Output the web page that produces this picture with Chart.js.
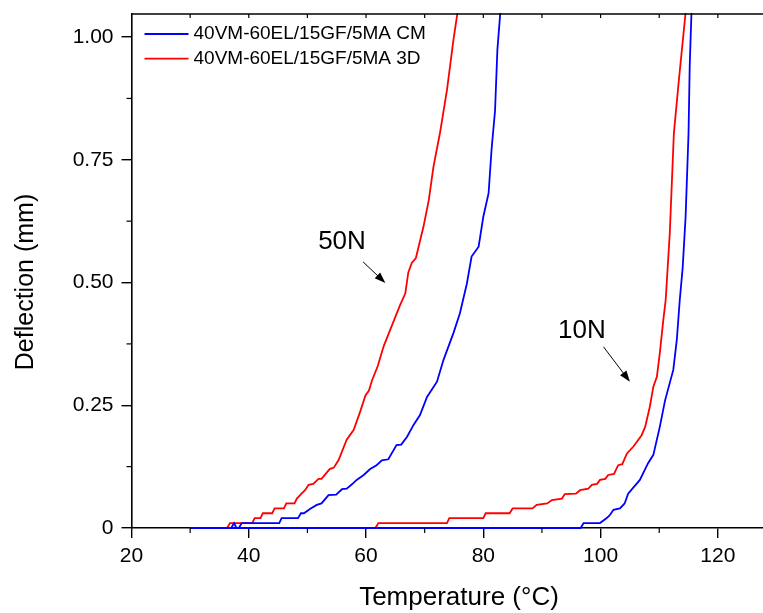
<!DOCTYPE html>
<html>
<head>
<meta charset="utf-8">
<script src="https://cdn.jsdelivr.net/npm/chart.js@4.4.1/dist/chart.umd.min.js"></script>
<style>
    body { margin: 0; background: #fff; }
    canvas { display: block; }
</style>
</head>
<body>
<canvas id="hdtChart" width="763" height="613"></canvas>
<script>
// CM sample, 50N load
const cm50Temp = [37.0, 37.5, 37.9, 38.3, 38.8, 40.5, 45.2, 45.6, 48.4, 48.9, 49.4, 50.5, 51.6, 52.4, 53.6, 54.9, 55.9, 56.7, 57.6, 58.4, 59.6, 60.7, 61.8, 62.7, 63.8, 65.2, 66.0, 67.0, 68.1, 69.2, 70.4, 72.1, 73.2, 74.9, 76.0, 77.2, 78.0, 79.2, 80.0, 80.9, 81.4, 82.0, 82.4, 82.9];
const cm50Defl = [0, 0.01, 0, 0, 0.01, 0.01, 0.01, 0.02, 0.02, 0.03, 0.03, 0.039, 0.047, 0.05, 0.067, 0.068, 0.079, 0.08, 0.089, 0.098, 0.108, 0.12, 0.128, 0.138, 0.14, 0.169, 0.17, 0.186, 0.21, 0.23, 0.267, 0.298, 0.342, 0.397, 0.437, 0.498, 0.553, 0.573, 0.634, 0.682, 0.77, 0.85, 0.974, 1.05];

// 3D sample, 50N load
const d50Temp = [30, 36.3, 36.8, 40.6, 41.0, 42.0, 42.4, 44.0, 44.4, 46.0, 46.4, 47.8, 48.2, 49.0, 49.6, 50.2, 51.0, 51.9, 52.4, 53.8, 54.5, 55.3, 56.7, 57.9, 59.0, 59.9, 60.5, 61.0, 62.0, 63.0, 64.0, 65.0, 65.8, 66.7, 67.2, 67.8, 68.5, 69.8, 70.7, 71.5, 72.6, 73.8, 74.9, 75.6];
const d50Defl = [0, 0, 0.01, 0.01, 0.02, 0.02, 0.03, 0.03, 0.04, 0.04, 0.05, 0.05, 0.06, 0.07, 0.077, 0.088, 0.09, 0.10, 0.10, 0.12, 0.123, 0.138, 0.18, 0.20, 0.237, 0.27, 0.28, 0.30, 0.33, 0.37, 0.40, 0.43, 0.454, 0.478, 0.52, 0.54, 0.55, 0.614, 0.668, 0.736, 0.804, 0.892, 0.994, 1.05];

// CM sample, 10N load
const cm10Temp = [30, 96.6, 97.1, 99.9, 101.0, 101.5, 102.2, 103.3, 104.1, 104.7, 106.7, 108.1, 109.0, 110.1, 111.0, 112.4, 113.0, 113.5, 114.0, 114.5, 115.0, 115.2, 115.5];
const cm10Defl = [0, 0, 0.01, 0.01, 0.02, 0.025, 0.037, 0.04, 0.05, 0.07, 0.098, 0.132, 0.149, 0.206, 0.26, 0.322, 0.383, 0.464, 0.53, 0.634, 0.804, 0.94, 1.05];

// 3D sample, 10N load
const d10Temp = [30, 61.6, 62.1, 73.8, 74.2, 80.0, 80.4, 84.5, 85.0, 88.4, 89.1, 90.9, 91.7, 93.4, 93.9, 95.8, 96.5, 97.9, 98.5, 99.4, 99.9, 100.8, 101.3, 102.3, 103.0, 103.7, 104.5, 105.6, 107.0, 107.6, 108.4, 109.0, 109.6, 110.1, 110.7, 111.1, 111.8, 112.5, 113.3, 114.5];
const d10Defl = [0, 0, 0.01, 0.01, 0.02, 0.02, 0.03, 0.03, 0.04, 0.04, 0.047, 0.05, 0.057, 0.06, 0.069, 0.07, 0.077, 0.08, 0.088, 0.09, 0.098, 0.10, 0.108, 0.11, 0.128, 0.13, 0.152, 0.166, 0.189, 0.206, 0.247, 0.288, 0.308, 0.356, 0.424, 0.464, 0.6, 0.804, 0.906, 1.05];

const seriesNames = ['40VM-60EL/15GF/5MA CM', '40VM-60EL/15GF/5MA 3D'];
const xTicks = [20, 40, 60, 80, 100, 120];
const yTicks = [0, 0.25, 0.5, 0.75, 1.0];
const yTickLabels = ['0', '0.25', '0.50', '0.75', '1.00'];

// load labels: [text, textX, textY, arrowFromX, arrowFromY, arrowToX, arrowToY] in data units
const loadNotes = [
    ['50N', 55.9, 0.582, 59.5, 0.542, 63.3, 0.499],
    ['10N', 96.8, 0.401, 100.5, 0.369, 105.0, 0.298]
];

const BLUE = '#0000ff';
const RED = '#ff0000';
const FONT = "'Liberation Sans', Arial, sans-serif";

function zip(xs, ys) {
    return xs.map((x, i) => ({ x: x, y: ys[i] }));
}

function lineSet(label, xs, ys, color) {
    return {
        label: label,
        data: zip(xs, ys),
        showLine: true,
        borderColor: color,
        backgroundColor: color,
        borderWidth: 1.8,
        pointRadius: 0,
        tension: 0,
        clip: { left: 10, top: 1, right: 10, bottom: 4 }
    };
}

// minor ticks, top frame line, axis titles, legend and load arrows
const decorPlugin = {
    id: 'decor',
    afterDraw(chart) {
        const c = chart.ctx;
        const area = chart.chartArea;
        const xs = chart.scales.x;
        const ys = chart.scales.y;
        c.save();
        c.strokeStyle = '#000';
        c.lineWidth = 1.5;

        // top frame
        c.beginPath();
        c.moveTo(area.left, area.top);
        c.lineTo(area.right, area.top);
        c.stroke();

        c.lineWidth = 1.2;
        for (let v = 30; v <= 130; v += 10) {
            const px = xs.getPixelForValue(v);
            if (px > area.right) break;
            c.beginPath();
            c.moveTo(px, area.top);
            c.lineTo(px, area.top + 4);
            c.stroke();
            if (v % 20 !== 0) {
                c.beginPath();
                c.moveTo(px, area.bottom);
                c.lineTo(px, area.bottom + 5);
                c.stroke();
            }
        }
        for (let v = 0.125; v < 1.05; v += 0.25) {
            const py = ys.getPixelForValue(v);
            c.beginPath();
            c.moveTo(area.left, py);
            c.lineTo(area.left - 5, py);
            c.stroke();
        }

        // axis titles
        c.fillStyle = '#000';
        c.font = '26px ' + FONT;
        c.textAlign = 'center';
        c.textBaseline = 'middle';
        c.fillText('Temperature (°C)', 459, 598);
        c.save();
        c.translate(26, 282);
        c.rotate(-Math.PI / 2);
        c.font = '25px ' + FONT;
        c.fillText('Deflection (mm)', 0, 0);
        c.restore();

        // legend
        c.font = '19px ' + FONT;
        c.textAlign = 'left';
        c.textBaseline = 'middle';
        const colors = [BLUE, RED];
        seriesNames.forEach((name, i) => {
            const y = area.top + 20 + i * 24.7;
            c.strokeStyle = colors[i];
            c.lineWidth = 1.8;
            c.beginPath();
            c.moveTo(area.left + 13, y);
            c.lineTo(area.left + 57, y);
            c.stroke();
            c.fillStyle = '#000';
            c.fillText(name, area.left + 62, y);
        });

        // load labels with arrows
        c.font = '26px ' + FONT;
        c.textAlign = 'center';
        loadNotes.forEach(n => {
            c.fillStyle = '#000';
            c.fillText(n[0], xs.getPixelForValue(n[1]), ys.getPixelForValue(n[2]));
            const x1 = xs.getPixelForValue(n[3]), y1 = ys.getPixelForValue(n[4]);
            const x2 = xs.getPixelForValue(n[5]), y2 = ys.getPixelForValue(n[6]);
            const ang = Math.atan2(y2 - y1, x2 - x1);
            c.strokeStyle = '#000';
            c.lineWidth = 1;
            c.beginPath();
            c.moveTo(x1, y1);
            c.lineTo(x2 - 6 * Math.cos(ang), y2 - 6 * Math.sin(ang));
            c.stroke();
            c.beginPath();
            c.moveTo(x2, y2);
            c.lineTo(x2 - 11 * Math.cos(ang) + 4 * Math.sin(ang), y2 - 11 * Math.sin(ang) - 4 * Math.cos(ang));
            c.lineTo(x2 - 11 * Math.cos(ang) - 4 * Math.sin(ang), y2 - 11 * Math.sin(ang) + 4 * Math.cos(ang));
            c.closePath();
            c.fill();
        });
        c.restore();
    }
};

const ctx = document.getElementById('hdtChart').getContext('2d');
new Chart(ctx, {
    type: 'scatter',
    data: {
        datasets: [
            lineSet(seriesNames[0], cm50Temp, cm50Defl, BLUE),
            lineSet(seriesNames[0], cm10Temp, cm10Defl, BLUE),
            lineSet(seriesNames[1], d50Temp, d50Defl, RED),
            lineSet(seriesNames[1], d10Temp, d10Defl, RED)
        ]
    },
    options: {
        responsive: false,
        animation: false,
        layout: { padding: { top: 14, right: 0, left: 0, bottom: 0 } },
        plugins: {
            legend: { display: false },
            tooltip: { enabled: false }
        },
        scales: {
            x: {
                type: 'linear',
                min: 20,
                max: 127.7,
                afterBuildTicks: scale => { scale.ticks = xTicks.map(v => ({ value: v })); },
                afterFit: scale => {
                    scale.height = 85;
                    scale.paddingLeft = 0;
                    scale.paddingRight = 0;
                },
                ticks: {
                    color: '#000',
                    font: { family: FONT, size: 21 },
                    padding: 6,
                    maxRotation: 0
                },
                grid: {
                    drawOnChartArea: false,
                    drawTicks: true,
                    tickLength: 10,
                    color: '#000',
                    lineWidth: 1.4
                },
                border: { display: true, color: '#000', width: 1.6 },
                title: { display: false }
            },
            y: {
                type: 'linear',
                min: 0,
                max: 1.047,
                afterBuildTicks: scale => { scale.ticks = yTicks.map(v => ({ value: v })); },
                afterFit: scale => {
                    scale.width = 131.5;
                    scale.paddingTop = 0;
                    scale.paddingBottom = 0;
                },
                ticks: {
                    color: '#000',
                    font: { family: FONT, size: 21 },
                    padding: 8,
                    callback: (value) => yTickLabels[yTicks.indexOf(value)]
                },
                grid: {
                    drawOnChartArea: false,
                    drawTicks: true,
                    tickLength: 10,
                    color: '#000',
                    lineWidth: 1.4
                },
                border: { display: true, color: '#000', width: 1.6 },
                title: { display: false }
            }
        }
    },
    plugins: [decorPlugin]
});
</script>
</body>
</html>
